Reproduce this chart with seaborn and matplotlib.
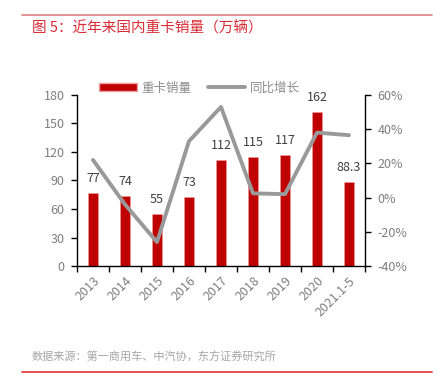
import numpy as np
import pandas as pd
import matplotlib
matplotlib.use("Agg")
import matplotlib.pyplot as plt
import seaborn as sns
from matplotlib.ticker import FuncFormatter, FixedLocator
from matplotlib.lines import Line2D
from matplotlib.patches import Patch

categories = ["2013", "2014", "2015", "2016", "2017", "2018", "2019", "2020", "2021.1-5"]
sales = [77, 74, 55, 73, 112, 115, 117, 162, 88.3]
sales_labels = ["77", "74", "55", "73", "112", "115", "117", "162", "88.3"]
growth = [22, -4, -26, 33, 53, 2.5, 2, 38, 36.5]

sns.set_theme(style="white")
plt.rcParams['font.family'] = ['Noto Sans CJK SC', 'DejaVu Sans']
plt.rcParams['axes.unicode_minus'] = False

gray = "#7f7f7f"
red = "#C00000"
linegray = "#999999"

fig = plt.figure(figsize=(4.41, 3.88), dpi=100)
ax = fig.add_axes([0.1746, 0.3144, 0.653, 0.4408])

df = pd.DataFrame({"cat": categories, "sales": sales, "growth": growth})
sns.barplot(data=df, x="cat", y="sales", color=red, width=0.33, ax=ax,
            saturation=1, edgecolor="#f0a0a0", linewidth=0.4)
ax.set_ylim(0, 180)
ax.set_yticks(np.arange(0, 181, 30))
ax.set_xlim(-0.5, len(categories) - 0.5)
ax.set_xlabel("")
ax.set_ylabel("")

for i, (v, lab) in enumerate(zip(sales, sales_labels)):
    ax.annotate(lab, (i, v), xytext=(0, 10.5), textcoords="offset points",
                ha="center", va="center", fontsize=9, color="#404040")

ax2 = ax.twinx()
sns.lineplot(x=np.arange(len(categories)), y=growth, ax=ax2, color=linegray, linewidth=2.8)
ax2.set_ylim(-40, 60)
ax2.set_yticks(np.arange(-40, 61, 20))
ax2.yaxis.set_major_formatter(FuncFormatter(lambda v, p: f"{int(v)}%"))
ax2.set_xlim(-0.5, len(categories) - 0.5)

for a in (ax, ax2):
    a.spines["top"].set_visible(False)
    for s in ["left", "right", "bottom"]:
        a.spines[s].set_color("black")
        a.spines[s].set_linewidth(1.0)

ax2.spines["left"].set_visible(False)
ax2.spines["bottom"].set_visible(False)
ax.spines["right"].set_visible(False)

ax.tick_params(axis="y", labelsize=9, length=4, direction="out", width=1, color="black", left=True, pad=5)
ax2.tick_params(axis="y", labelsize=9, length=4, direction="out", width=1, color="black", right=True, pad=5)
for t in ax.get_yticklabels() + ax2.get_yticklabels():
    t.set_color(gray)

ax.set_xticks(np.arange(len(categories)))
ax.set_xticklabels(categories, rotation=45, ha="right", rotation_mode="anchor", fontsize=9, color=gray)
ax.tick_params(axis="x", which="major", length=0, pad=6)
ax.xaxis.set_minor_locator(FixedLocator(np.arange(-0.5, len(categories), 1.0)))
ax.tick_params(axis="x", which="minor", length=4, width=1, color="black", bottom=True, direction="out")

handles = [Patch(facecolor=red, edgecolor="#f0a0a0"),
           Line2D([0], [0], color=linegray, linewidth=2.8)]
leg = fig.legend(handles, ["重卡销量", "同比增长"], loc="center", bbox_to_anchor=(0.453, 0.773),
                 ncol=2, frameon=False, fontsize=9, handlelength=3.0, handleheight=0.6,
                 columnspacing=1.3, handletextpad=0.4)
for t in leg.get_texts():
    t.set_color("#8c8c8c")

fig.add_artist(Line2D([0.05, 0.98], [1 - 15 / 388, 1 - 15 / 388], color="#e08080", linewidth=1.2))
fig.text(32 / 441, 1 - 28 / 388, "图 5：近年来国内重卡销量（万辆）", color="#d92b35", fontsize=10.5, va="center", ha="left")
fig.text(32 / 441, 1 - 357 / 388, "数据来源：第一商用车、中汽协，东方证券研究所", color="#a6a6a6", fontsize=8, va="center", ha="left")
fig.add_artist(Line2D([0.05, 0.98], [1 - 372 / 388, 1 - 372 / 388], color="#e03030", linewidth=1.2))

fig.savefig("out.png", dpi=100)
